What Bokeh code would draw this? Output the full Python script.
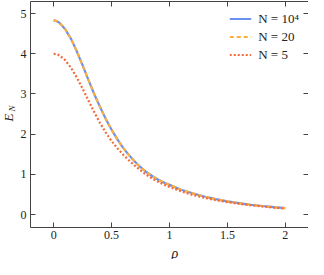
import math
from bokeh.plotting import figure
from bokeh.models import (Range1d, FixedTicker, LinearAxis, Legend, LegendItem,
                          CustomJSTickFormatter)
from bokeh.layouts import row, column
from bokeh.core.properties import value
from bokeh.embed import file_html
from bokeh.resources import INLINE

# ---------------- data ----------------
rho = [0.0, 0.025, 0.05, 0.1, 0.15, 0.2, 0.25, 0.3, 0.35, 0.4, 0.45, 0.5, 0.55, 0.6, 0.65,
       0.7, 0.75, 0.8, 0.85, 0.9, 0.95, 1.0, 1.1, 1.2, 1.3, 1.4, 1.5, 1.6, 1.7,
       1.8, 1.9, 2.0]
e_n10000 = [4.83, 4.815, 4.77, 4.61, 4.37, 4.06, 3.71, 3.35, 3.00, 2.68, 2.38, 2.11, 1.87,
            1.66, 1.48, 1.32, 1.18, 1.06, 0.96, 0.875, 0.80, 0.74, 0.62, 0.53, 0.45,
            0.385, 0.33, 0.285, 0.245, 0.215, 0.185, 0.16]
e_n20 = [4.83, 4.815, 4.77, 4.61, 4.37, 4.06, 3.71, 3.35, 3.00, 2.68, 2.38, 2.11, 1.87,
         1.66, 1.48, 1.32, 1.18, 1.06, 0.96, 0.875, 0.80, 0.74, 0.62, 0.53, 0.45,
         0.385, 0.33, 0.285, 0.245, 0.215, 0.185, 0.16]
e_n5 = [4.00, 3.99, 3.96, 3.84, 3.65, 3.41, 3.13, 2.84, 2.55, 2.28, 2.04, 1.83, 1.65,
        1.49, 1.35, 1.22, 1.10, 0.99, 0.90, 0.82, 0.75, 0.69, 0.58, 0.49, 0.42,
        0.36, 0.31, 0.27, 0.235, 0.205, 0.175, 0.15]
series_labels = ["N = 10\u2074", "N = 20", "N = 5"]
x_ticks = [0, 0.5, 1, 1.5, 2]
x_tick_labels = ["0", "0.5", "1", "1.5", "2"]
y_ticks = [0, 1, 2, 3, 4, 5]
y_tick_labels = ["0", "1", "2", "3", "4", "5"]
x_label = "\u03c1"
y_label_main = "E"
y_label_sub = "N"

# ---------------- style / layout ----------------
SERIF = "Liberation Serif"
AX = "#444444"
TXT = "#222222"
LW, MW, MH, BH = 17, 291, 241, 18   # label strip width, main size, bottom strip height
TOTAL_H = MH + BH
FRAME_LEFT = 11


def blank_fig(w, h):
    f = figure(width=w, height=h, output_backend="svg", toolbar_location=None,
               title=None, x_range=Range1d(0, w), y_range=Range1d(0, h),
               x_axis_location=None, y_axis_location=None, min_border=0)
    f.outline_line_color = None
    f.grid.visible = False
    f.background_fill_color = "white"
    f.border_fill_color = "white"
    return f


p = figure(width=MW, height=MH, output_backend="svg", toolbar_location=None, title=None,
           x_range=Range1d(-0.2, 2.2), y_range=Range1d(-0.32, 5.3),
           min_border_left=FRAME_LEFT, min_border_right=0, min_border_top=1,
           min_border_bottom=0)
p.outline_line_color = None
p.grid.visible = False
p.background_fill_color = "white"
p.border_fill_color = "white"


def style_axis(ax, labels=True):
    ax.axis_line_color = AX
    ax.axis_line_width = 1
    ax.major_tick_line_color = AX
    ax.major_tick_in = 5
    ax.major_tick_out = 0
    ax.minor_tick_line_color = None
    if labels:
        ax.major_label_text_font = SERIF
        ax.major_label_text_font_size = "12px"
        ax.major_label_text_color = TXT
        ax.major_label_standoff = 4
    else:
        ax.formatter = CustomJSTickFormatter(code="return ''")
        ax.major_label_standoff = 0


p.xaxis.ticker = FixedTicker(ticks=x_ticks)
p.yaxis.ticker = FixedTicker(ticks=y_ticks)
p.xaxis.major_label_overrides = dict(zip(x_ticks, x_tick_labels))
p.yaxis.major_label_overrides = dict(zip(y_ticks, y_tick_labels))
for ax in p.xaxis + p.yaxis:
    style_axis(ax)
p.xaxis.major_label_standoff = 3

top = LinearAxis(ticker=FixedTicker(ticks=x_ticks))
right = LinearAxis(ticker=FixedTicker(ticks=y_ticks))
style_axis(top, labels=False)
style_axis(right, labels=False)
p.add_layout(top, "above")
p.add_layout(right, "right")

r1 = p.line(rho, e_n10000, line_color="#6A90F0", line_width=2.2)
r2 = p.line(rho, e_n20, line_color="#FDB03A", line_width=2.2, line_dash="4 3")
r3 = p.line(rho, e_n5, line_color="#F26B3A", line_width=2.2, line_dash="2 2")

legend = Legend(items=[LegendItem(label=series_labels[0], renderers=[r1]),
                       LegendItem(label=series_labels[1], renderers=[r2]),
                       LegendItem(label=series_labels[2], renderers=[r3])],
                location="top_right")
legend.background_fill_alpha = 0
legend.border_line_color = None
legend.label_text_font = SERIF
legend.label_text_font_size = "13px"
legend.label_text_color = TXT
legend.glyph_width = 22
legend.glyph_height = 17
legend.label_height = 17
legend.label_standoff = 7
legend.spacing = 1
legend.padding = 0
legend.margin = 9
p.add_layout(legend)

# ---- y-axis title strip (E with subscript N, rotated) ----
lf = blank_fig(LW, TOTAL_H)
lf.text(x=[8], y=[TOTAL_H - 117], text=[y_label_main], angle=math.pi / 2,
        text_font=value(SERIF), text_font_style="italic", text_font_size="13px",
        text_color=TXT, text_align="center", text_baseline="middle")
lf.text(x=[11.5], y=[TOTAL_H - 108], text=[y_label_sub], angle=math.pi / 2,
        text_font=value(SERIF), text_font_style="italic", text_font_size="9px",
        text_color=TXT, text_align="center", text_baseline="middle")

# ---- x-axis title strip ----
bf = blank_fig(MW, BH)
frame_w = MW - FRAME_LEFT
bf.text(x=[FRAME_LEFT + frame_w * (1.0 - (-0.2)) / 2.4], y=[6], text=[x_label],
        text_font=value(SERIF), text_font_style="italic", text_font_size="14px",
        text_color=TXT, text_align="center", text_baseline="alphabetic")

layout = row(lf, column(p, bf, spacing=0), spacing=0)
open("out.html", "w").write(file_html(layout, INLINE))
